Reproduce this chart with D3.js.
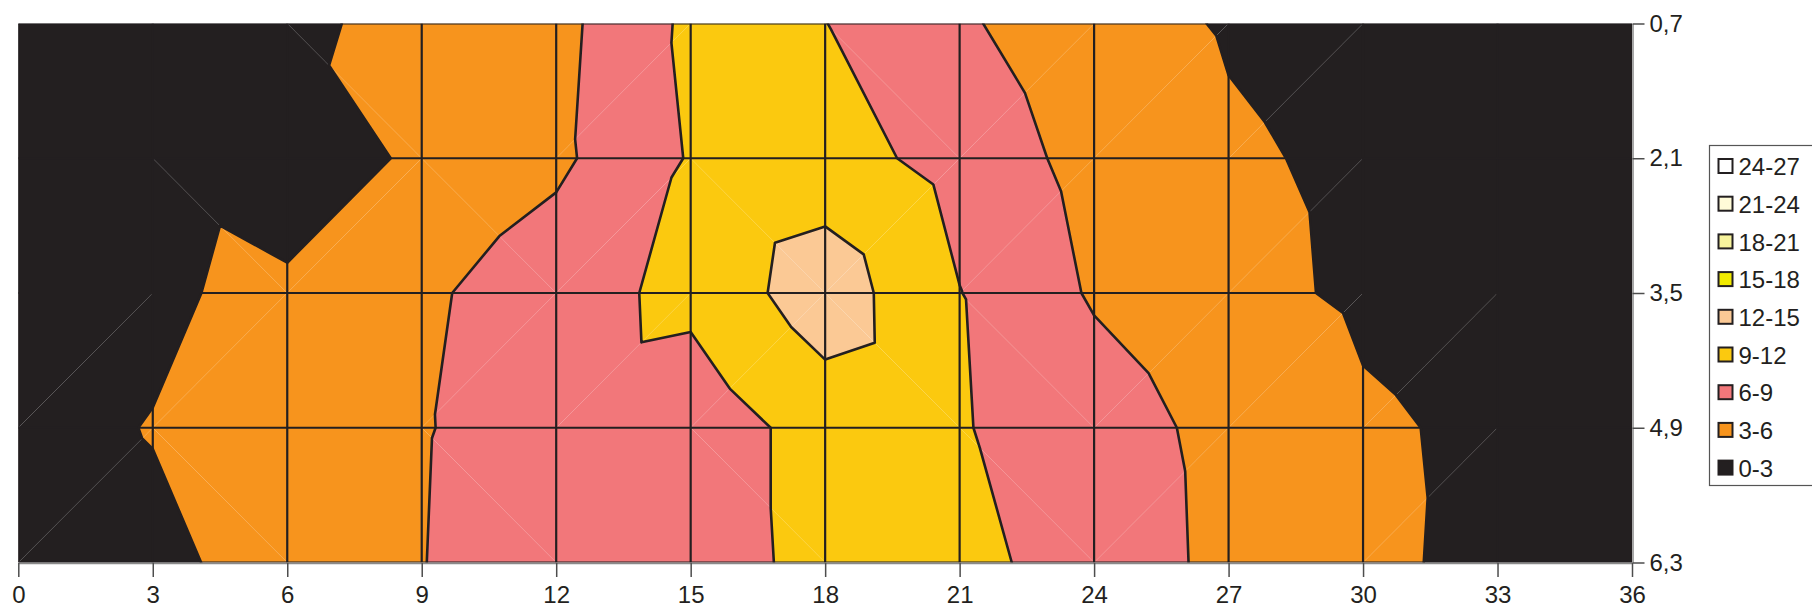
<!DOCTYPE html>
<html>
<head>
<meta charset="utf-8">
<script src="https://cdn.jsdelivr.net/npm/d3@7"></script>
<style>
  html, body { margin: 0; padding: 0; background: #ffffff; }
  svg { display: block; }
  text { font-family: "Liberation Sans", Arial, Helvetica, sans-serif; }
</style>
</head>
<body>
<svg id="chart" width="1812" height="611"></svg>
<script>
// ---------- data ----------
const xValues = [0, 3, 6, 9, 12, 15, 18, 21, 24, 27, 30, 33, 36];
const yValues = [0.7, 2.1, 3.5, 4.9, 6.3];

// one row of the surface for each y value (left to right along x)
const row07 = [1.0, 1.8, 2.72, 3.41, 5.12, 9.6, 9.05, 6.42, 4.02, 2.8, 2.13, 1.2, 0.8];
const row21 = [1.2, 2.4, 0.93, 3.62, 5.41, 9.21, 10.3, 7.87, 5.0, 3.32, 2.57, 1.5, 0.9];
const row35 = [1.8, 2.66, 3.6, 5.49, 7.74, 9.78, 13.66, 9.07, 5.68, 3.65, 2.65, 2.07, 1.2];
const row49 = [2.5, 3.06, 3.85, 5.81, 7.65, 7.09, 10.3, 9.16, 7.6, 5.0, 3.3, 2.6, 1.5];
const row63 = [2.3, 2.68, 3.57, 5.91, 8.3, 6.89, 10.3, 9.57, 8.1, 5.11, 3.37, 2.55, 1.8];
const zRows = [row07, row21, row35, row49, row63];

const bandLevels = [0, 3, 6, 9, 12, 15, 18, 21, 24, 27];
const bandLabels = ["0-3", "3-6", "6-9", "9-12", "12-15", "15-18", "18-21", "21-24", "24-27"];
const bandColors = ["#231f20", "#f7941d", "#f2777a", "#fbc90f", "#fbc995", "#f1ea00", "#f7f39c", "#fffbd8", "#ffffff"];

const xTickLabels = ["0", "3", "6", "9", "12", "15", "18", "21", "24", "27", "30", "33", "36"];
const yTickLabels = ["0,7", "2,1", "3,5", "4,9", "6,3"];

// ---------- layout ----------
const plotLeft = 18.3, plotRight = 1632, plotTop = 23.5, plotBottom = 562.5;
const ink = "#231f20";

const x = d3.scaleLinear().domain([0, 36]).range([plotLeft, plotRight]);
const y = d3.scaleLinear().domain([0.7, 6.3]).range([plotTop, plotBottom]);
const bandScale = d3.scaleThreshold().domain(bandLevels.slice(1, -1)).range(d3.range(bandLabels.length));

const svg = d3.select("#chart");
svg.append("defs").append("clipPath").attr("id", "plotClip")
  .append("rect")
  .attr("x", plotLeft).attr("y", plotTop)
  .attr("width", plotRight - plotLeft).attr("height", plotBottom - plotTop);

const plot = svg.append("g").attr("clip-path", "url(#plotClip)");
const fillLayer = plot.append("g");
const gridLayer = plot.append("g");
const lineLayer = plot.append("g");

const lineGen = d3.line().x(p => x(p[0])).y(p => y(p[1]));

// clip a polygon (points [x, y, z]) to z >= lev (above) or z <= lev (below)
function clipPoly(poly, lev, above) {
  const out = [];
  for (let k = 0; k < poly.length; k++) {
    const a = poly[k], b = poly[(k + 1) % poly.length];
    const ina = above ? a[2] >= lev : a[2] <= lev;
    const inb = above ? b[2] >= lev : b[2] <= lev;
    if (ina) out.push(a);
    if (ina !== inb) {
      const t = (lev - a[2]) / (b[2] - a[2]);
      out.push([a[0] + t * (b[0] - a[0]), a[1] + t * (b[1] - a[1]), lev]);
    }
  }
  return out;
}

const fills = [];
const segments = [];
const nx = xValues.length, ny = yValues.length;

for (let j = 0; j < ny - 1; j++) {
  for (let i = 0; i < nx - 1; i++) {
    const p00 = [xValues[i], yValues[j], zRows[j][i]];
    const p10 = [xValues[i + 1], yValues[j], zRows[j][i + 1]];
    const p01 = [xValues[i], yValues[j + 1], zRows[j + 1][i]];
    const p11 = [xValues[i + 1], yValues[j + 1], zRows[j + 1][i + 1]];
    const bands = [p00, p10, p01, p11].map(p => bandScale(p[2]));
    if (bands.every(b => b === bands[0])) {
      fills.push({ poly: [p00, p10, p11, p01], band: bands[0] });
      continue;
    }
    // split along the diagonal whose two corners have the larger sum
    const tris = (p00[2] + p11[2] > p01[2] + p10[2])
      ? [[p00, p10, p11], [p00, p11, p01]]
      : [[p00, p10, p01], [p10, p11, p01]];
    tris.forEach(tri => {
      for (let b = 0; b < bandLabels.length; b++) {
        let poly = clipPoly(tri, bandLevels[b], true);
        if (poly.length >= 3) poly = clipPoly(poly, bandLevels[b + 1], false);
        if (poly.length >= 3) fills.push({ poly, band: b });
      }
      for (let l = 1; l < bandLevels.length - 1; l++) {
        const lev = bandLevels[l];
        const pts = [];
        for (let k = 0; k < 3; k++) {
          const a = tri[k], c = tri[(k + 1) % 3];
          if ((a[2] - lev) * (c[2] - lev) < 0) {
            const t = (lev - a[2]) / (c[2] - a[2]);
            pts.push([a[0] + t * (c[0] - a[0]), a[1] + t * (c[1] - a[1])]);
          }
        }
        if (pts.length === 2) segments.push(pts);
      }
    });
  }
}

fillLayer.selectAll("path").data(fills).join("path")
  .attr("d", d => lineGen(d.poly) + "Z")
  .attr("fill", d => bandColors[d.band])
  .attr("stroke", "none");

// grid lines
gridLayer.selectAll("line.v").data(xValues.slice(0, -1)).join("line")
  .attr("class", "v")
  .attr("x1", d => x(d)).attr("x2", d => x(d))
  .attr("y1", plotTop).attr("y2", plotBottom)
  .attr("stroke", ink).attr("stroke-width", 2.2);
gridLayer.selectAll("line.h").data(yValues).join("line")
  .attr("class", "h")
  .attr("x1", plotLeft).attr("x2", plotRight)
  .attr("y1", d => y(d)).attr("y2", d => y(d))
  .attr("stroke", ink).attr("stroke-width", 2.2);

// contour lines
lineLayer.append("path")
  .attr("d", segments.map(s => lineGen(s)).join(""))
  .attr("fill", "none")
  .attr("stroke", ink)
  .attr("stroke-width", 2.6)
  .attr("stroke-linecap", "round")
  .attr("stroke-linejoin", "round");

// axes
const axisColor = "#8a8a8a";
const tickColor = "#4d4d4d";
const fontSize = 24;
const fontFamily = "'Liberation Sans', Arial, Helvetica, sans-serif";

const yAxis = d3.axisRight(y)
  .tickValues(yValues)
  .tickFormat((d, i) => yTickLabels[i])
  .tickSize(12).tickSizeOuter(0).tickPadding(5);
const gy = svg.append("g").attr("transform", `translate(${plotRight + 0.5},0)`).call(yAxis);
gy.select(".domain").attr("stroke", axisColor).attr("stroke-width", 1.5);
gy.selectAll(".tick line").attr("stroke", tickColor).attr("stroke-width", 1.5);
gy.selectAll(".tick text").attr("fill", ink).style("font-size", fontSize + "px")
  .style("font-family", fontFamily);

const xAxis = d3.axisBottom(x)
  .tickValues(xValues)
  .tickFormat((d, i) => xTickLabels[i])
  .tickSize(14).tickSizeOuter(0).tickPadding(9);
const gx = svg.append("g").attr("transform", `translate(0,${plotBottom + 0.5})`).call(xAxis);
gx.select(".domain").attr("stroke", axisColor).attr("stroke-width", 1.5);
gx.selectAll(".tick line").attr("stroke", tickColor).attr("stroke-width", 1.5);
gx.selectAll(".tick text").attr("fill", ink).style("font-size", fontSize + "px")
  .style("font-family", fontFamily);

// legend
const legendX = 1709.5, legendY = 145.5, legendH = 340, itemStep = 37.7;
const legend = svg.append("g");
legend.append("rect")
  .attr("x", legendX).attr("y", legendY)
  .attr("width", 160).attr("height", legendH)
  .attr("fill", "#ffffff").attr("stroke", "#555555").attr("stroke-width", 1.2);

const legendItems = d3.range(bandLabels.length).reverse();
const li = legend.selectAll("g.item").data(legendItems).join("g")
  .attr("class", "item")
  .attr("transform", (d, k) => `translate(${legendX + 8},${legendY + 21 + k * itemStep})`);
li.append("rect")
  .attr("x", 1).attr("y", -7.5).attr("width", 14).attr("height", 14)
  .attr("fill", d => bandColors[d])
  .attr("stroke", ink).attr("stroke-width", 2);
li.append("text")
  .attr("x", 21).attr("y", 0).attr("dy", "0.36em")
  .attr("fill", ink)
  .style("font-size", fontSize + "px")
  .style("font-family", fontFamily)
  .text(d => bandLabels[d]);
</script>
</body>
</html>
